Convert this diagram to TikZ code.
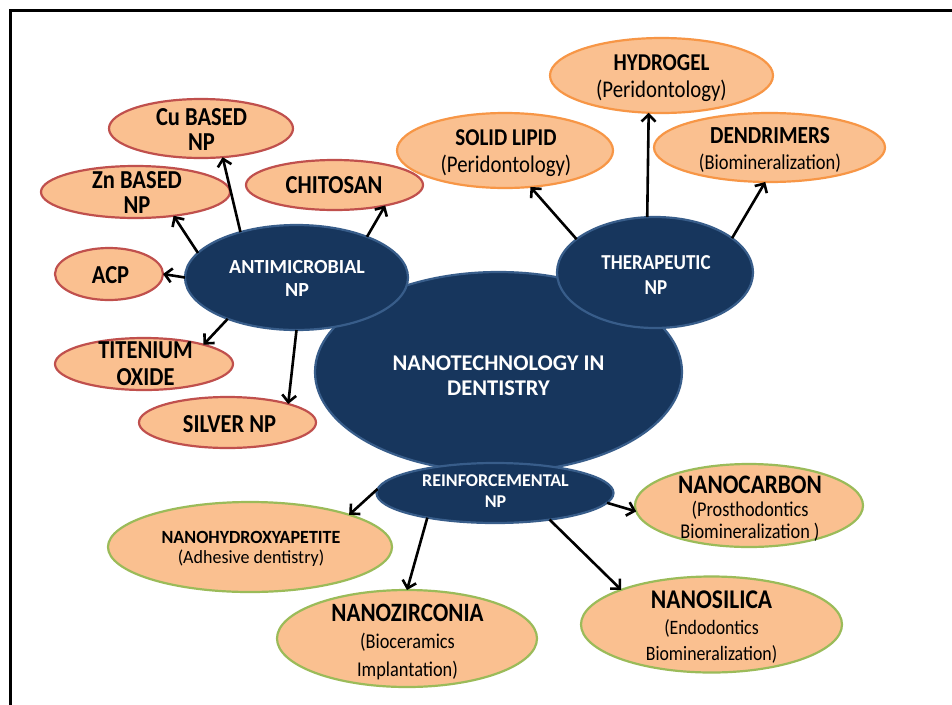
\documentclass[tikz,border=0pt]{standalone}
\usepackage{fontspec}
\setmainfont{Carlito}
\usetikzlibrary{shapes.geometric,arrows.meta}
\definecolor{navy}{HTML}{17365D}
\definecolor{navyline}{HTML}{385D8A}
\definecolor{peach}{HTML}{FAC090}
\definecolor{redline}{HTML}{C0504D}
\definecolor{orgline}{HTML}{F79646}
\definecolor{grnline}{HTML}{9BBB59}
\begin{document}
\begin{tikzpicture}[x=1pt,y=-1pt,
  hub/.style={ellipse, draw=navyline, line width=2.2pt, fill=navy, inner sep=0pt, outer sep=0pt},
  leaf/.style={ellipse, line width=2.2pt, fill=peach, inner sep=0pt, outer sep=0pt},
  leafR/.style={leaf, draw=redline},
  leafO/.style={leaf, draw=orgline},
  leafG/.style={leaf, draw=grnline},
  txt/.style={align=center, inner sep=0pt, text=black, yscale=1.15},
  wtxt/.style={align=center, inner sep=0pt, text=white},
  arr/.style={draw=black, line width=2.6pt, -{Straight Barb[length=7pt,width=14pt]}},
  frame/.style={line width=3pt, line cap=rect}]
\useasboundingbox (0,0) rectangle (952,704);
\fill[white] (0,0) rectangle (952,704);
\draw[frame] (10.5,704) -- (10.5,10.5) -- (952,10.5);

% hubs
\node[hub, minimum width=367pt, minimum height=200pt] (core) at (498.5,372) {};
\node[hub, minimum width=223pt, minimum height=105pt] (anti) at (296.5,277.5) {};
\node[hub, minimum width=196pt, minimum height=111pt] (thera) at (655,272.5) {};
\node[hub, minimum width=237pt, minimum height=60pt] (reinf) at (495,493) {};

% antimicrobial leaves
\node[leafR, minimum width=184pt, minimum height=59pt] (cu) at (201,128.5) {};
\node[leafR, minimum width=189pt, minimum height=52pt] (zn) at (135.5,192) {};
\node[leafR, minimum width=177pt, minimum height=50pt] (chit) at (334.5,185) {};
\node[leafR, minimum width=108pt, minimum height=52pt] (acp) at (109,274) {};
\node[leafR, minimum width=178pt, minimum height=52pt] (tit) at (144,364) {};
\node[leafR, minimum width=177pt, minimum height=51pt] (silv) at (227.5,422.5) {};

% therapeutic leaves
\node[leafO, minimum width=223pt, minimum height=75pt] (hyd) at (661.5,75.5) {};
\node[leafO, minimum width=216pt, minimum height=75pt] (solid) at (505,150.5) {};
\node[leafO, minimum width=231pt, minimum height=69pt] (dend) at (769.5,147.5) {};

% reinforcemental leaves
\node[leafG, minimum width=284pt, minimum height=90pt] (nhx) at (250,547) {};
\node[leafG, minimum width=260pt, minimum height=97pt] (nzr) at (407,638.5) {};
\node[leafG, minimum width=261pt, minimum height=96pt] (nsi) at (711.5,624.5) {};
\node[leafG, minimum width=228pt, minimum height=83pt] (ncb) at (749,505.5) {};

% connectors
\draw[arr] (anti.141) -- (cu.-53);
\draw[arr] (anti.166) -- (zn.-32);
\draw[arr] (anti.180) -- (acp.0);
\draw[arr] (anti.30) -- (chit.-22);
\draw[arr] (anti.-149) -- (tit.18);
\draw[arr] (anti.-90) -- (silv.17);
\draw[arr] (thera.157) -- (solid.-55);
\draw[arr] (thera.98) -- (hyd.-109);
\draw[arr] (thera.24) -- (dend.-97);
\draw[arr] (reinf.178) -- (nhx.18);
\draw[arr] (reinf.-160) -- (nzr.90);
\draw[arr] (reinf.-26) -- (nsi.159);
\draw[arr] (reinf.-5) -- (ncb.183);

% hub texts
\node[wtxt, font=\bfseries\fontsize{22.5}{25}\selectfont] (core-t) at (498.5,375.5) {NANOTECHNOLOGY IN\\DENTISTRY};
\node[wtxt, font=\bfseries\fontsize{20}{23}\selectfont] (anti-t) at (297,278.5) {ANTIMICROBIAL\\NP};
\node[wtxt, yscale=1.12, font=\bfseries\fontsize{19}{21.5}\selectfont] (thera-t) at (656,275) {THERAPEUTIC\\NP};
\node[wtxt, font=\bfseries\fontsize{18}{21}\selectfont] (reinf-t) at (495.5,491.5) {REINFORCEMENTAL\\NP};

% leaf texts
\node[txt, font=\bfseries\fontsize{22.5}{22}\selectfont] (cu-t) at (201.5,129.5) {Cu BASED\\NP};
\node[txt, font=\bfseries\fontsize{22.5}{22}\selectfont] (zn-t) at (137,192.5) {Zn BASED\\NP};
\node[txt, font=\bfseries\fontsize{22.5}{22}\selectfont] (chit-t) at (334,185) {CHITOSAN};
\node[txt, font=\bfseries\fontsize{22.5}{22}\selectfont] (acp-t) at (110.5,275) {ACP};
\node[txt, font=\bfseries\fontsize{22.5}{23.5}\selectfont] (tit-t) at (145.5,363.5) {TITENIUM\\OXIDE};
\node[txt, font=\bfseries\fontsize{22.5}{22}\selectfont] (silv-t) at (229.5,424.5) {SILVER NP};

\node[txt, font=\fontsize{20.8}{23}\selectfont] (hyd-t) at (661.5,78) {{\bfseries\fontsize{21}{23}\selectfont HYDROGEL}\\(Peridontology)};
\node[txt, font=\fontsize{20.8}{23}\selectfont] (solid-t) at (506,153) {{\bfseries\fontsize{21}{23}\selectfont SOLID LIPID}\\(Peridontology)};
\node[txt, font=\fontsize{18.5}{23}\selectfont] (dend-t) at (770,150) {{\bfseries\fontsize{21.3}{23}\selectfont DENDRIMERS}\\(Biomineralization)};

\node[txt, yscale=0.9, font=\fontsize{18}{20}\selectfont] (nhx-t) at (251,549) {{\bfseries\fontsize{18}{20}\selectfont NANOHYDROXYAPETITE}\\(Adhesive dentistry)};
\node[txt, font=\fontsize{18.3}{23.5}\selectfont] (nzr-t) at (407.5,642) {{\bfseries\fontsize{23}{23.5}\selectfont NANOZIRCONIA}\\(Bioceramics\\Implantation)};
\node[txt, font=\fontsize{17.8}{23}\selectfont] (nsi-t) at (711.5,627) {{\bfseries\fontsize{23.5}{23}\selectfont NANOSILICA}\\(Endodontics\\Biomineralization)};
\node[txt, font=\fontsize{18.3}{19.5}\selectfont] (ncb-t) at (750,509) {{\bfseries\fontsize{23.2}{19.5}\selectfont NANOCARBON}\\(Prosthodontics\\Biomineralization )};
\end{tikzpicture}
\end{document}
